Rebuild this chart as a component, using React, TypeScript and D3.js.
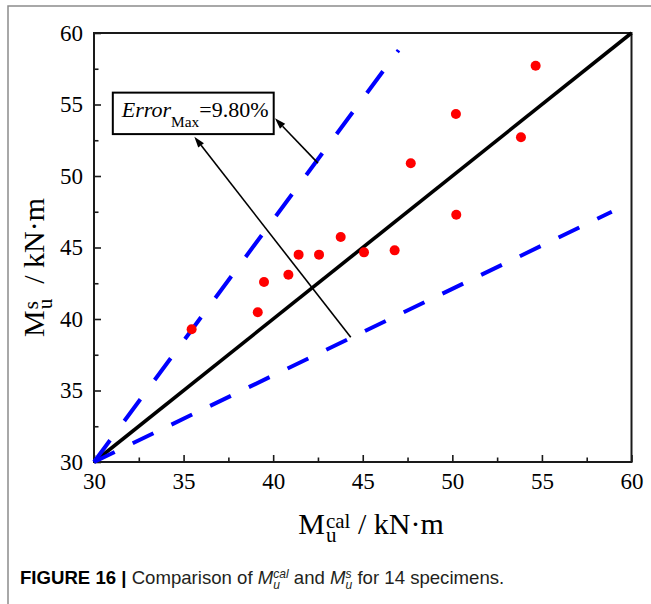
import React, { useEffect, useRef } from "react";
import * as d3 from "d3";

// Calculated vs. tested ultimate moments (kN·m) for the 14 specimens
const calMoment = [35.45, 39.14, 39.49, 40.85, 41.42, 42.56, 43.77, 45.07, 46.78, 47.68, 50.2, 50.22, 53.83, 54.65];
const testMoment = [39.28, 40.47, 42.59, 43.1, 44.5, 44.5, 45.73, 44.66, 44.8, 50.89, 54.34, 47.29, 52.71, 57.71];

const majorTicks = [30, 35, 40, 45, 50, 55, 60];
const minorTicks = [32.5, 37.5, 42.5, 47.5, 52.5, 57.5];

// Reference line y = x and the two error-bound lines
const equalityLine: [number, number][] = [[30, 30], [60, 60]];
const upperBound: [number, number][] = [[30, 30], [47.0, 58.8]];
const lowerBound: [number, number][] = [[30, 30], [58.9, 47.5]];

const errorMax = "9.80%";

const W = 651;
const H = 604;
const SERIF = "'Liberation Serif', 'Times New Roman', serif";
const SANS = "'Liberation Sans', Arial, sans-serif";

type Run = {
  t: string;
  scale?: number;
  shift?: number;
  italic?: boolean;
  bold?: boolean;
  stack?: boolean;
  dx?: number;
  fill?: string;
};

// Lays out text runs left to right; a "stack" run is a tspan placed at the x of the previous run
function layoutRuns(
  g: d3.Selection<SVGGElement, unknown, null, undefined>,
  runs: Run[],
  size: number,
  family: string,
  fill: string
) {
  let cursor = 0;
  let lastStart = 0;
  let lastText: d3.Selection<SVGTextElement, unknown, null, undefined> | null = null;
  for (const r of runs) {
    const fs = size * (r.scale ?? 1);
    const start = r.stack ? lastStart : cursor + (r.dx ?? 0);
    if (!r.stack || !lastText) {
      lastText = g
        .append("text")
        .attr("font-family", family)
        .style("font-family", family)
        .attr("fill", fill)
        .attr("xml:space", "preserve")
        .style("white-space", "pre");
    }
    const span = lastText
      .append("tspan")
      .attr("x", start)
      .attr("y", (r.shift ?? 0) * size)
      .attr("font-size", fs)
      .attr("font-style", r.italic ? "italic" : "normal")
      .attr("font-weight", r.bold ? "bold" : "normal")
      .attr("fill", r.fill ?? fill)
      .text(r.t);
    const w = (span.node() as SVGTSpanElement).getComputedTextLength();
    if (r.stack) {
      cursor = Math.max(cursor, start + w);
    } else {
      lastStart = start;
      cursor = start + w;
    }
  }
  return cursor;
}

function arrow(
  g: d3.Selection<SVGGElement, unknown, null, undefined>,
  from: [number, number],
  tip: [number, number]
) {
  const dx = tip[0] - from[0];
  const dy = tip[1] - from[1];
  const len = Math.hypot(dx, dy);
  const ux = dx / len;
  const uy = dy / len;
  const headLen = 11;
  const half = 3.6;
  const bx = tip[0] - ux * headLen;
  const by = tip[1] - uy * headLen;
  g.append("line")
    .attr("x1", from[0])
    .attr("y1", from[1])
    .attr("x2", bx)
    .attr("y2", by)
    .attr("stroke", "#000")
    .attr("stroke-width", 1.6);
  g.append("path")
    .attr(
      "d",
      `M${tip[0]},${tip[1]} L${bx - uy * half},${by + ux * half} L${bx + uy * half},${by - ux * half} Z`
    )
    .attr("fill", "#000");
}

export default function App() {
  const ref = useRef<SVGSVGElement>(null);

  useEffect(() => {
    const svg = d3.select(ref.current as SVGSVGElement);
    svg.selectAll("*").remove();

    const x = d3.scaleLinear().domain([30, 60]).range([94, 631.5]);
    const y = d3.scaleLinear().domain([30, 60]).range([462, 33]);
    const [x0, x1] = x.range();
    const [y0, y1] = y.range();

    // Figure panel border
    svg
      .append("path")
      .attr("d", `M8,${H} V6 H${W}`)
      .attr("fill", "none")
      .attr("stroke", "#8c8c8c")
      .attr("stroke-width", 1.5);

    // Axes with inward ticks
    const xAxis = svg.append("g").attr("transform", `translate(0,${y0})`);
    xAxis.call(
      d3.axisBottom(x).tickValues(majorTicks).tickSize(-7).tickPadding(11).tickFormat(d3.format("d"))
    );
    const xMinor = svg.append("g").attr("transform", `translate(0,${y0})`);
    xMinor.call(d3.axisBottom(x).tickValues(minorTicks).tickSize(-4.5).tickFormat(() => ""));

    const yAxis = svg.append("g").attr("transform", `translate(${x0},0)`);
    yAxis.call(
      d3.axisLeft(y).tickValues(majorTicks).tickSize(-7).tickPadding(11).tickFormat(d3.format("d"))
    );
    const yMinor = svg.append("g").attr("transform", `translate(${x0},0)`);
    yMinor.call(d3.axisLeft(y).tickValues(minorTicks).tickSize(-4.5).tickFormat(() => ""));

    for (const a of [xAxis, xMinor, yAxis, yMinor]) {
      a.select(".domain").remove();
      a.attr("font-family", SERIF).attr("font-size", 23);
      a.selectAll("line").attr("stroke", "#1a1a1a").attr("stroke-width", 1.6);
      a.selectAll("text").style("font-family", SERIF).attr("font-size", 23).attr("fill", "#000");
    }

    // Plot frame
    svg
      .append("rect")
      .attr("x", x0)
      .attr("y", y1)
      .attr("width", x1 - x0)
      .attr("height", y0 - y1)
      .attr("fill", "none")
      .attr("stroke", "#1a1a1a")
      .attr("stroke-width", 2);

    const line = d3
      .line<[number, number]>()
      .x((d) => x(d[0]))
      .y((d) => y(d[1]));

    // y = x
    svg
      .append("path")
      .attr("d", line(equalityLine))
      .attr("fill", "none")
      .attr("stroke", "#000")
      .attr("stroke-width", 3.6);

    // Error bounds
    svg
      .append("path")
      .attr("d", line(upperBound))
      .attr("fill", "none")
      .attr("stroke", "#0000ff")
      .attr("stroke-width", 4)
      .attr("stroke-dasharray", "27 24");
    svg
      .append("path")
      .attr("d", line(lowerBound))
      .attr("fill", "none")
      .attr("stroke", "#0000ff")
      .attr("stroke-width", 4)
      .attr("stroke-dasharray", "23 20");

    // Specimens
    svg
      .append("g")
      .selectAll("circle")
      .data(calMoment.map((c, i) => [c, testMoment[i]] as [number, number]))
      .join("circle")
      .attr("cx", (d) => x(d[0]))
      .attr("cy", (d) => y(d[1]))
      .attr("r", 5)
      .attr("fill", "#ff0000");

    // Annotation box with arrows
    const ann = svg.append("g");
    ann
      .append("rect")
      .attr("x", x(31.05))
      .attr("y", y(55.83))
      .attr("width", x(40.03) - x(31.05))
      .attr("height", y(52.93) - y(55.83))
      .attr("fill", "#fff")
      .attr("stroke", "#000")
      .attr("stroke-width", 2);
    const label = ann.append("g").attr("transform", `translate(${x(31.55)},${y(54.1)})`);
    layoutRuns(
      label,
      [
        { t: "Error", italic: true },
        { t: "Max", scale: 0.7, shift: 0.42 },
        { t: "=" + errorMax },
      ],
      22,
      SERIF,
      "#000"
    );
    arrow(ann, [x(44.33), y(38.72)], [x(35.6), y(52.75)]);
    arrow(ann, [x(42.5), y(50.9)], [x(40.1), y(54.03)]);

    // X axis title
    const xt = svg.append("g");
    const xw = layoutRuns(
      xt,
      [
        { t: "M" },
        { t: "cal", scale: 0.7, shift: -0.2, dx: 1 },
        { t: "u", scale: 0.7, shift: 0.27, stack: true },
        { t: " / kN·m" },
      ],
      30,
      SERIF,
      "#000"
    );
    xt.attr("transform", `translate(${371 - xw / 2},534)`);

    // Y axis title
    const yt = svg.append("g").attr("transform", `translate(44,337) rotate(-90)`);
    layoutRuns(
      yt,
      [
        { t: "M" },
        { t: "s", scale: 0.7, shift: -0.2, dx: 1 },
        { t: "u", scale: 0.7, shift: 0.27, stack: true },
        { t: "  / kN·m" },
      ],
      30,
      SERIF,
      "#000"
    );

    // Caption
    const cap = svg.append("g").attr("transform", "translate(20,584)");
    layoutRuns(
      cap,
      [
        { t: "FIGURE 16 | ", bold: true, fill: "#000" },
        { t: "Comparison of " },
        { t: "M", italic: true },
        { t: "cal", italic: true, scale: 0.65, shift: -0.35 },
        { t: "u", italic: true, scale: 0.65, shift: 0.25, stack: true },
        { t: " and " },
        { t: "M", italic: true },
        { t: "s", italic: true, scale: 0.65, shift: -0.35 },
        { t: "u", italic: true, scale: 0.65, shift: 0.25, stack: true },
        { t: " for 14 specimens." },
      ],
      18.6,
      SANS,
      "#231f20"
    );
  }, []);

  return (
    <svg
      ref={ref}
      width={W}
      height={H}
      style={{ position: "absolute", left: 0, top: 0, background: "#fff" }}
    />
  );
}
